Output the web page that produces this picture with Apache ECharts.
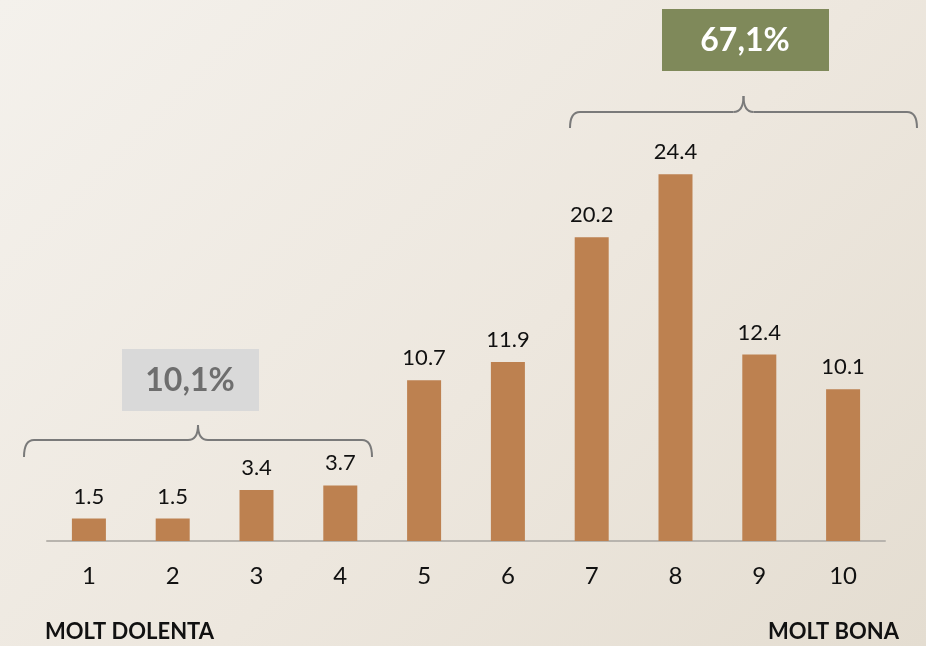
<!DOCTYPE html>
<html>
<head>
<meta charset="utf-8">
<script src="https://cdn.jsdelivr.net/npm/echarts@6/dist/echarts.min.js"></script>
<style>
  html, body { margin: 0; padding: 0; }
  #chart {
    width: 926px; height: 646px;
    background: linear-gradient(135deg, #f4f1ec 0%, #ede7de 55%, #e4ddd1 100%);
  }
</style>
</head>
<body>
<div id="chart"></div>
<script>
// puntuacions 1..10
const categories = ['1', '2', '3', '4', '5', '6', '7', '8', '9', '10'];
const values = [1.5, 1.5, 3.4, 3.7, 10.7, 11.9, 20.2, 24.4, 12.4, 10.1];
const lowLabel = '10,1%';
const highLabel = '67,1%';

const font = 'Lato, "Open Sans", sans-serif';
const braceStyle = { stroke: '#7a7a7a', lineWidth: 2, fill: null };

// claudator horitzontal (punta cap amunt), fet amb corbes i línies
function brace(x1, x2, y, h, peak) {
  const mid = (x1 + x2) / 2;
  const r = 10;
  const curve = (ax, ay, cx, cy, bx, by) => ({
    type: 'bezierCurve',
    shape: { x1: ax, y1: ay, x2: bx, y2: by, cpx1: cx, cpy1: cy },
    style: braceStyle
  });
  const line = (ax, ay, bx, by) => ({
    type: 'line',
    shape: { x1: ax, y1: ay, x2: bx, y2: by },
    style: braceStyle
  });
  return {
    type: 'group',
    children: [
      curve(x1, y + h, x1, y, x1 + r, y),
      line(x1 + r, y, mid - r, y),
      curve(mid - r, y, mid, y, mid, y - peak),
      curve(mid, y - peak, mid, y, mid + r, y),
      line(mid + r, y, x2 - r, y),
      curve(x2 - r, y, x2, y, x2, y + h)
    ]
  };
}

const chart = echarts.init(document.getElementById('chart'));
const option = {
  backgroundColor: 'transparent',
  animation: false,
  grid: { left: 47, right: 41, top: 90, bottom: 105 },
  xAxis: {
    type: 'category',
    data: categories,
    axisLine: { lineStyle: { color: '#b8b4ae', width: 2 } },
    axisTick: { show: false },
    axisLabel: { color: '#111', fontSize: 24, fontFamily: font, margin: 23 }
  },
  yAxis: {
    type: 'value',
    min: 0,
    max: 30,
    show: false,
    splitLine: { show: false }
  },
  series: [{
    type: 'bar',
    data: values,
    barWidth: 34,
    itemStyle: { color: '#bd8150' },
    label: {
      show: true,
      position: 'top',
      distance: 11,
      color: '#111',
      fontSize: 22,
      fontFamily: font,
      formatter: p => p.value.toFixed(1)
    }
  }],
  graphic: [
    brace(24, 372, 440, 17, 15),
    brace(570, 917, 112, 16, 16),
    {
      type: 'rect',
      shape: { x: 122, y: 349, width: 137, height: 62 },
      style: { fill: '#d9d9d9' }
    },
    {
      type: 'text',
      x: 190, y: 381,
      style: {
        text: lowLabel, fill: '#6e6e6e', font: 'bold 32px ' + font,
        align: 'center', verticalAlign: 'middle'
      }
    },
    {
      type: 'rect',
      shape: { x: 662, y: 9, width: 167, height: 62 },
      style: { fill: '#7f895a' }
    },
    {
      type: 'text',
      x: 745, y: 41,
      style: {
        text: highLabel, fill: '#ffffff', font: 'bold 32px ' + font,
        align: 'center', verticalAlign: 'middle'
      }
    },
    {
      type: 'text',
      left: 45, top: 621,
      style: { text: 'MOLT DOLENTA', fill: '#111', font: 'bold 22px ' + font }
    },
    {
      type: 'text',
      right: 27, top: 621,
      style: { text: 'MOLT BONA', fill: '#111', font: 'bold 22px ' + font }
    }
  ]
};
chart.setOption(option);
</script>
</body>
</html>
